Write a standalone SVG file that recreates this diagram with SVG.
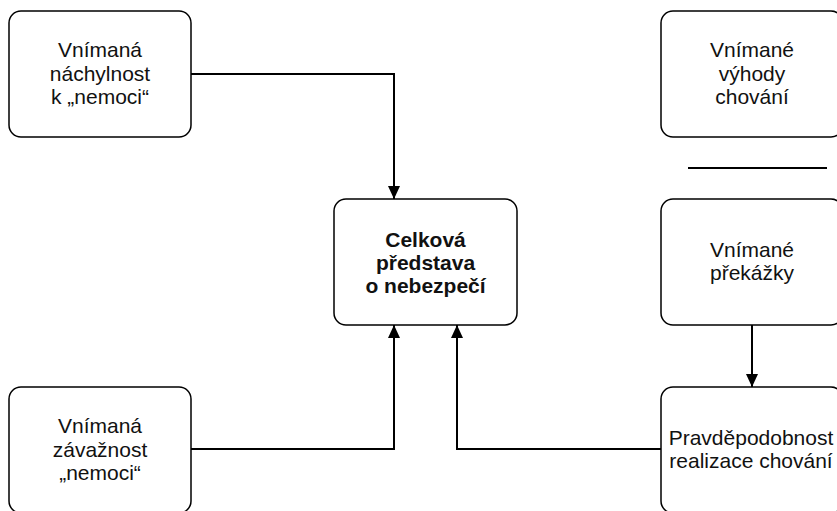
<svg xmlns="http://www.w3.org/2000/svg" width="837" height="511" viewBox="0 0 837 511">
<style>
.box{fill:#fff;stroke:#000;stroke-width:1.5}
.t{font-family:"Liberation Sans",Arial,sans-serif;font-size:21px;fill:#111;text-anchor:middle}
.b{font-weight:bold}
.c{fill:none;stroke:#000;stroke-width:2}
</style>
<defs>
<marker id="ah" markerUnits="userSpaceOnUse" markerWidth="14" markerHeight="14" viewBox="-14 -7 14 14" refX="0" refY="0" orient="auto">
<path d="M-13,-6 L-13,6 L0,0 Z" fill="#000"/>
</marker>
</defs>
<rect width="837" height="511" fill="#fff"/>
<g id="connectors">
<path class="c" d="M191,74 H394 V199" marker-end="url(#ah)"/>
<path class="c" d="M191,449 H394 V325" marker-end="url(#ah)"/>
<path class="c" d="M661,449 H457 V325" marker-end="url(#ah)"/>
<path class="c" d="M752,325 V387" marker-end="url(#ah)"/>
<line class="c" x1="688" y1="168" x2="827" y2="168"/>
</g>
<g id="n1">
<rect class="box" x="9" y="11" width="182" height="126" rx="12"/>
<text class="t" x="100" y="56.5">Vnímaná</text>
<text class="t" x="100" y="80.5">náchylnost</text>
<text class="t" x="100" y="104">k „nemoci“</text>
</g>
<g id="n2">
<rect class="box" x="661" y="11" width="182" height="126" rx="12"/>
<text class="t" x="752" y="56.5">Vnímané</text>
<text class="t" x="752" y="80.5">výhody</text>
<text class="t" x="752" y="104">chování</text>
</g>
<g id="n3">
<rect class="box" x="334" y="199" width="183" height="126" rx="12"/>
<text class="t b" x="425.5" y="246.5">Celková</text>
<text class="t b" x="425.5" y="270">představa</text>
<text class="t b" x="425.5" y="293">o nebezpečí</text>
</g>
<g id="n4">
<rect class="box" x="661" y="199" width="182" height="126" rx="12"/>
<text class="t" x="752" y="256.5">Vnímané</text>
<text class="t" x="752" y="279.5">překážky</text>
</g>
<g id="n5">
<rect class="box" x="9" y="387" width="182" height="126" rx="12"/>
<text class="t" x="100" y="433">Vnímaná</text>
<text class="t" x="100" y="456.5">závažnost</text>
<text class="t" x="100" y="480">„nemoci“</text>
</g>
<g id="n6">
<rect class="box" x="661" y="387" width="182" height="126" rx="12"/>
<text class="t" x="751" y="445">Pravděpodobnost</text>
<text class="t" x="751" y="468">realizace chování</text>
</g>
</svg>
